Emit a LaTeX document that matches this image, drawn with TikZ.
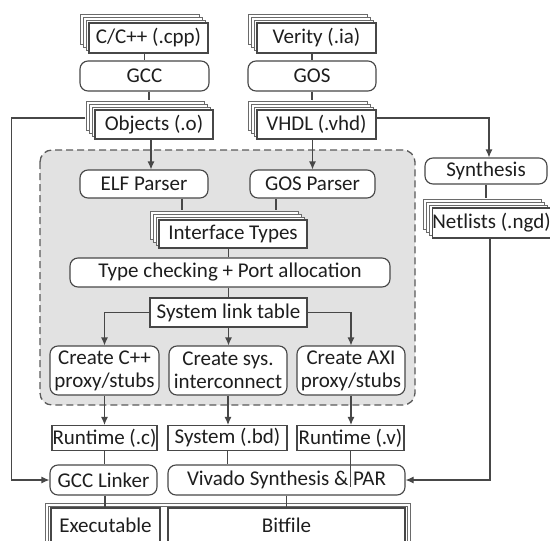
\documentclass[tikz,border=0pt]{standalone}
\usepackage{fontspec}
\setmainfont{Carlito}
\usetikzlibrary{arrows.meta,calc}

\definecolor{lc}{HTML}{474747}
\definecolor{sc}{HTML}{6A6A6A}
\definecolor{tc}{HTML}{1E1E1E}
\definecolor{regionfill}{HTML}{E2E2E2}
\definecolor{regiondraw}{HTML}{5A5A5A}

\tikzset{
  base/.style={draw=lc, line width=1.15pt, fill=white, text=tc, inner sep=0pt,
    font=\fontsize{21}{23}\selectfont, align=center},
  box/.style={base, rectangle},
  rbox/.style={base, rounded corners=8pt},
  layer/.style={draw=sc, fill=white, line width=0.9pt, transform canvas={shift={#1}}},
  stack/.style={box,
    preaction={layer={(-9pt,9pt)}},
    preaction={layer={(-6pt,6pt)}},
    preaction={layer={(-3pt,3pt)}}},
  frame/.style={draw=sc, line width=0.9pt},
  link/.style={draw=lc, line width=1.15pt},
  arr/.style={link, -{Latex[length=8pt,width=7pt]}},
  region/.style={draw=regiondraw, fill=regionfill, line width=1.3pt,
    dash pattern=on 7pt off 4pt, rounded corners=12pt},
}

\begin{document}
\begin{tikzpicture}[x=1pt, y=-1pt]
\useasboundingbox (0,0) rectangle (550,541);
\clip (0,0) rectangle (550,541);

% shaded tool-flow region
\path[region] (40,150) rectangle (415,405);

% software and hardware sources
\node[stack, minimum width=119, minimum height=30] (cpp) at (148.5,38) {C/C++ (.cpp)};
\node[rbox, minimum width=129, minimum height=30] (gcc) at (144.5,76) {GCC};
\node[stack, minimum width=118, minimum height=29] (obj) at (154,124.5) {Objects (.o)};

\node[stack, minimum width=119, minimum height=30] (verity) at (316.5,38) {Verity (.ia)};
\node[rbox, minimum width=128, minimum height=30] (gos) at (312,76) {GOS};
\node[stack, minimum width=119, minimum height=29] (vhdl) at (316.5,124.5) {VHDL (.vhd)};

% synthesis branch
\node[rbox, minimum width=122, minimum height=26] (synth) at (486,171) {Synthesis};
\node[stack, minimum width=115, minimum height=30] (net) at (491.5,223) {Netlists (.ngd)};

% inside the region
\node[rbox, minimum width=128, minimum height=28] (elf) at (144,184) {ELF Parser};
\node[rbox, minimum width=125, minimum height=28] (gosp) at (312.5,184) {GOS Parser};
\node[stack, minimum width=148, minimum height=28] (itf) at (233,234) {Interface Types};
\node[rbox, minimum width=320, minimum height=29] (tchk) at (230,272.5) {Type checking + Port allocation};
\node[box, minimum width=157, minimum height=29] (slt) at (228.5,312.5) {System link table};
\node[rbox, minimum width=109, minimum height=49] (ccpp) at (104.5,370.5) {Create C++\\proxy/stubs};
\node[rbox, minimum width=118, minimum height=49] (csys) at (228,370.5) {Create sys.\\interconnect};
\node[rbox, minimum width=108, minimum height=49] (caxi) at (351,370.5) {Create AXI\\proxy/stubs};

% generated outputs
\node[box, minimum width=105, minimum height=25] (rtc) at (104.5,438) {Runtime (.c)};
\node[box, minimum width=119, minimum height=25] (sysbd) at (227.5,438) {System (.bd)};
\node[box, minimum width=107, minimum height=25] (rtv) at (350.5,438) {Runtime (.v)};

\node[rbox, minimum width=107, minimum height=30] (gccl) at (103.5,480) {GCC Linker};
\node[rbox, minimum width=237, minimum height=30] (viv) at (286.5,480) {Vivado Synthesis \& PAR};

% final products inside a double frame
\draw[frame] (45,503) rectangle (410,560);
\draw[frame] (48,506) rectangle (407,560);
\node[box, minimum width=109, minimum height=34] (exe) at (105.5,525) {Executable};
\node[box, minimum width=237, minimum height=34] (bit) at (286.5,525) {Bitfile};

% connectors
\draw[link] (gcc.north |- cpp.south) -- (gcc.north);
\draw[link] ($(gcc.south)+(4.5,0)$) -- ($(gcc.south |- obj.north)+(4.5,-9)$);
\draw[arr] ($(obj.south)+(-3,0)$) -- ($(obj.south |- elf.north)+(-3,0)$);

\draw[link] (gos.north |- verity.south) -- (gos.north);
\draw[link] (gos.south) -- ($(gos.south |- vhdl.north)+(0,-9)$);
\draw[arr] (gosp.north |- vhdl.south) -- (gosp.north);
\draw[arr] ($(vhdl.east)+(0,-6.5)$) -| ($(synth.north)+(3,0)$);
\draw[link] (synth.south) -- ($(synth.south |- net.north)+(0,-9)$);

\draw[link] ($(elf.south)+(38,0)$) -- ($(elf.south |- itf.north)+(38,-9)$);
\draw[link] ($(gosp.south)+(-36.5,0)$) -- ($(gosp.south |- itf.north)+(-36.5,-9)$);
\draw[link] (slt.north |- itf.south) -- (slt.north |- tchk.north);
\draw[link] (slt.north |- tchk.south) -- (slt.north);

\draw[arr] (slt.west) -| (ccpp.north);
\draw[arr] (slt.south) -- (slt.south |- csys.north);
\draw[arr] (slt.east) -| (caxi.north);

\draw[arr] (ccpp.south) -- (ccpp.south |- rtc.north);
\draw[arr] (csys.south) -- (csys.south |- sysbd.north);
\draw[arr] (caxi.south) -- (caxi.south |- rtv.north);

\draw[link] (rtc.south) -- (rtc.south |- gccl.north);
\draw[link] (sysbd.south) -- (sysbd.south |- viv.north);
\draw[link] (rtv.south) -- ($(rtv.south |- viv.center)+(0,7)$);

\draw[arr] ($(obj.west)+(-9,-6.5)$) -- ++(-74,0) |- (gccl.west);
\draw[arr] ($(net.south)+(-1.5,0)$) |- (viv.east);

\draw[link] ($(gccl.south)+(1.5,0)$) -- ($(gccl.south |- exe.north)+(1.5,0)$);
\draw[link] (viv.south) -- (viv.south |- bit.north);
\end{tikzpicture}
\end{document}
